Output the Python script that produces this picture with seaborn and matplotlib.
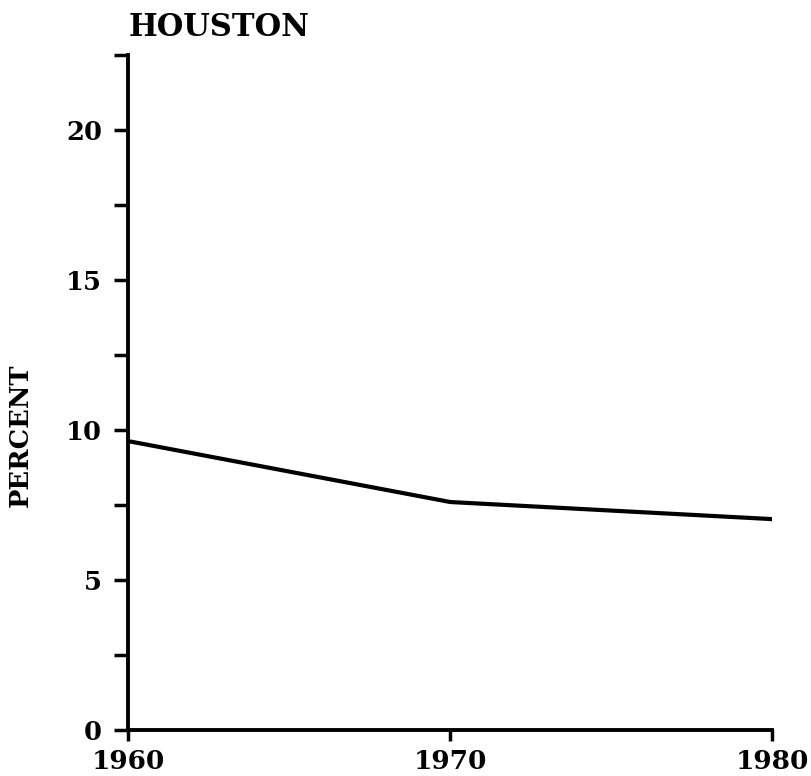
import matplotlib
matplotlib.use("Agg")
import matplotlib.pyplot as plt
import seaborn as sns
import pandas as pd
from matplotlib.ticker import MultipleLocator

# values
years = [1960, 1970, 1980]
percent = [9.63, 7.6, 7.03]
y_major = [0, 5, 10, 15, 20]
x_ticks = [1960, 1970, 1980]

df = pd.DataFrame({"year": years, "percent": percent})

sns.set_style("ticks")
plt.rcParams['font.family'] = ['DejaVu Serif']
plt.rcParams['font.weight'] = 'bold'
plt.rcParams['text.color'] = 'black'
plt.rcParams['axes.labelcolor'] = 'black'
plt.rcParams['xtick.color'] = 'black'
plt.rcParams['ytick.color'] = 'black'

fig = plt.figure(figsize=(8.12, 7.76), dpi=100)
ax = fig.add_axes([0.158, 0.0593, 0.793, 0.8697])

sns.lineplot(data=df, x="year", y="percent", color="black", linewidth=3, ax=ax)

ax.set_xlim(1960, 1980)
ax.set_ylim(0, 22.5)
ax.set_xticks(x_ticks)
ax.set_xticklabels([str(x) for x in x_ticks])
ax.set_yticks(y_major)
ax.yaxis.set_minor_locator(MultipleLocator(2.5))
ax.yaxis.set_minor_formatter(plt.NullFormatter())

sns.despine(ax=ax)
for s in ["left", "bottom"]:
    ax.spines[s].set_linewidth(2.8)
    ax.spines[s].set_color("black")

ax.tick_params(axis="y", which="both", length=10, width=2.5, color="black",
               labelsize=18.5, pad=9, labelcolor="black")
ax.tick_params(axis="x", which="both", length=8, width=2.5, color="black",
               labelsize=19, pad=6, labelcolor="black")
for lab in ax.get_xticklabels() + ax.get_yticklabels():
    lab.set_fontweight("bold")

ax.set_xlabel("")
ax.set_ylabel("PERCENT", fontsize=18.5, fontweight="bold", color="black")
ax.yaxis.set_label_coords(-0.149, 0.437)
ax.set_title("HOUSTON", loc="left", fontsize=22, fontweight="bold",
             pad=14, color="black")

fig.savefig("out.png", dpi=100)
